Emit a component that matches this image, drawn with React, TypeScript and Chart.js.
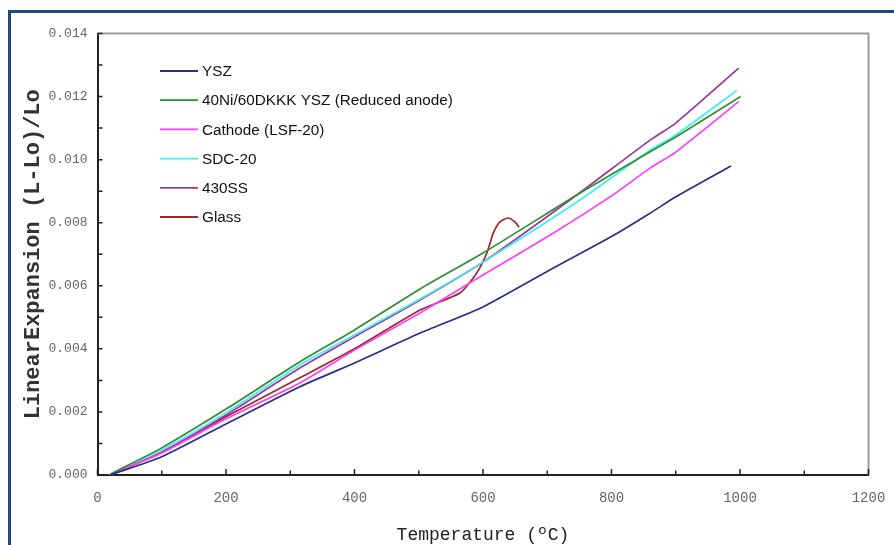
import React, { useEffect, useRef } from 'react';
import { Chart, registerables } from 'chart.js';
Chart.register(...registerables);

// ---- data (temperature in °C, linear expansion (L-Lo)/Lo) ----
const seriesLabels = [
  'YSZ',
  '40Ni/60DKKK YSZ (Reduced anode)',
  'Cathode (LSF-20)',
  'SDC-20',
  '430SS',
  'Glass',
];
const seriesColors = ['#2b2d86', '#2f8f2f', '#ff3cff', '#3ff0f0', '#993a9b', '#9a2a2a'];

const yszT = [20, 100, 200, 315, 400, 502, 600, 704, 800, 860, 900, 986];
const yszE = [0, 0.00058, 0.00162, 0.0028, 0.00355, 0.0045, 0.00533, 0.0065, 0.00756, 0.0083, 0.00882, 0.0098];

const anodeT = [20, 100, 200, 315, 400, 502, 600, 746, 860, 900, 1001];
const anodeE = [0.00003, 0.00086, 0.00209, 0.00359, 0.0046, 0.0059, 0.00704, 0.00888, 0.01025, 0.01072, 0.012];

const cathodeT = [18, 100, 200, 315, 400, 502, 600, 704, 800, 860, 900, 998];
const cathodeE = [0, 0.0007, 0.00178, 0.00292, 0.00396, 0.00514, 0.00634, 0.0076, 0.00885, 0.00973, 0.01024, 0.01184];

const sdcT = [38, 100, 200, 315, 400, 502, 600, 751, 860, 900, 995];
const sdcE = [0.00022, 0.00079, 0.00197, 0.00349, 0.00444, 0.00558, 0.00675, 0.00872, 0.0103, 0.01078, 0.01219];

const ssT = [20, 100, 200, 315, 400, 502, 600, 746, 860, 900, 998];
const ssE = [0, 0.00072, 0.0019, 0.00339, 0.00438, 0.00555, 0.00675, 0.00888, 0.01062, 0.01116, 0.0129];

const glassT = [22, 100, 200, 315, 400, 502, 564, 590, 606, 616, 626, 639, 650, 656];
const glassE = [0.00002, 0.00072, 0.00185, 0.00308, 0.004, 0.00523, 0.00577, 0.0064, 0.00704, 0.00767, 0.00802, 0.00815, 0.00802, 0.00786];

const xTickStep = 200;
const yTickStep = 0.002;
const xMin = 0, xMax = 1200, yMin = 0, yMax = 0.014;

const seriesT = [yszT, anodeT, cathodeT, sdcT, ssT, glassT];
const seriesE = [yszE, anodeE, cathodeE, sdcE, ssE, glassE];

const frameAndTicks = {
  id: 'frameAndTicks',
  afterDraw(chart: any) {
    const { ctx, chartArea } = chart;
    const xs = chart.scales.x;
    const ys = chart.scales.y;
    ctx.save();
    // top and right grey frame lines
    ctx.strokeStyle = '#9c9c9c';
    ctx.lineWidth = 2;
    ctx.beginPath();
    ctx.moveTo(chartArea.left, chartArea.top);
    ctx.lineTo(chartArea.right, chartArea.top);
    ctx.lineTo(chartArea.right, chartArea.bottom);
    ctx.stroke();
    // inward tick marks
    ctx.strokeStyle = '#222';
    ctx.lineWidth = 1.5;
    ctx.beginPath();
    for (let v = xMin; v <= xMax; v += xTickStep / 2) {
      const px = xs.getPixelForValue(v);
      const len = v % xTickStep === 0 ? 6 : 4.5;
      ctx.moveTo(px, chartArea.bottom);
      ctx.lineTo(px, chartArea.bottom - len);
    }
    for (let k = 0; k <= Math.round((yMax - yMin) / (yTickStep / 2)); k++) {
      const v = yMin + k * (yTickStep / 2);
      const py = ys.getPixelForValue(v);
      ctx.moveTo(chartArea.left, py);
      ctx.lineTo(chartArea.left + 5, py);
    }
    ctx.stroke();
    // legend inside the plot
    ctx.font = '15.3px "Liberation Sans", Arial, sans-serif';
    ctx.textBaseline = 'middle';
    ctx.textAlign = 'left';
    chart.data.datasets.forEach((ds: any, i: number) => {
      const y = chartArea.top + 37.5 + i * 29.2;
      const x0 = chartArea.left + 62.5;
      ctx.strokeStyle = ds.borderColor;
      ctx.lineWidth = 1.8;
      ctx.beginPath();
      ctx.moveTo(x0, y);
      ctx.lineTo(x0 + 38, y);
      ctx.stroke();
      ctx.fillStyle = '#111';
      ctx.fillText(ds.label, x0 + 42, y + 1);
    });
    ctx.restore();
  },
};

export default function App() {
  const ref = useRef<HTMLCanvasElement>(null);
  useEffect(() => {
    document.body.style.margin = '0';
    document.body.style.background = '#fff';
    const datasets = seriesLabels.map((label, i) => ({
      label,
      data: seriesT[i].map((t, j) => ({ x: t, y: seriesE[i][j] })),
      borderColor: seriesColors[i],
      backgroundColor: seriesColors[i],
      borderWidth: 1.7,
      pointRadius: 0,
      tension: 0.2,
      fill: false,
    }));
    const chart = new Chart(ref.current as HTMLCanvasElement, {
      type: 'line',
      data: { datasets },
      plugins: [frameAndTicks],
      options: {
        animation: false,
        responsive: false,
        maintainAspectRatio: false,
        layout: { padding: { left: 0, right: 25.5, top: 33.5, bottom: 0 } },
        plugins: { legend: { display: false }, tooltip: { enabled: false } },
        scales: {
          x: {
            type: 'linear',
            min: xMin,
            max: xMax,
            afterFit(scale: any) {
              scale.height = 70;
              scale.paddingLeft = 0;
              scale.paddingRight = 0;
            },
            grid: { display: false, drawTicks: false },
            border: { display: true, color: '#222', width: 2 },
            ticks: {
              stepSize: xTickStep,
              color: '#666',
              padding: 15,
              maxRotation: 0,
              callback: (v: any) => String(Math.round(Number(v))),
              font: { family: '"Liberation Mono", "Courier New", monospace', size: 14 },
            },
            title: {
              display: true,
              text: 'Temperature (ºC)',
              color: '#222',
              padding: { top: 0, bottom: 0 },
              font: { family: '"Liberation Mono", "Courier New", monospace', size: 18, lineHeight: 1.1 },
            },
          },
          y: {
            type: 'linear',
            min: yMin,
            max: yMax,
            afterFit(scale: any) {
              scale.width = 97.5;
              scale.paddingTop = 0;
              scale.paddingBottom = 0;
            },
            grid: { display: false, drawTicks: false },
            border: { display: true, color: '#222', width: 2 },
            ticks: {
              stepSize: yTickStep,
              color: '#666',
              padding: 10,
              callback: (v: any) => Number(v).toFixed(3),
              font: { family: '"Liberation Mono", "Courier New", monospace', size: 13 },
            },
            title: {
              display: true,
              text: 'LinearExpansion (L-Lo)/Lo',
              color: '#333',
              padding: { top: 19.8, bottom: 0 },
              font: { family: '"Liberation Mono", "Courier New", monospace', size: 22, weight: 'bold', lineHeight: 1.2 },
            },
          },
        },
      },
    });
    return () => chart.destroy();
  }, []);
  return (
    <div style={{ position: 'relative', width: 894, height: 545, overflow: 'hidden', background: '#fff' }}>
      <div
        style={{
          position: 'absolute',
          left: 8,
          top: 10,
          width: 900,
          height: 600,
          borderTop: '3px solid #1d4b7a',
          borderLeft: '3px solid #1d4b7a',
        }}
      />
      <canvas
        ref={ref}
        width={894}
        height={545}
        style={{ position: 'absolute', left: 0, top: 0, width: 894, height: 545 }}
      />
    </div>
  );
}
